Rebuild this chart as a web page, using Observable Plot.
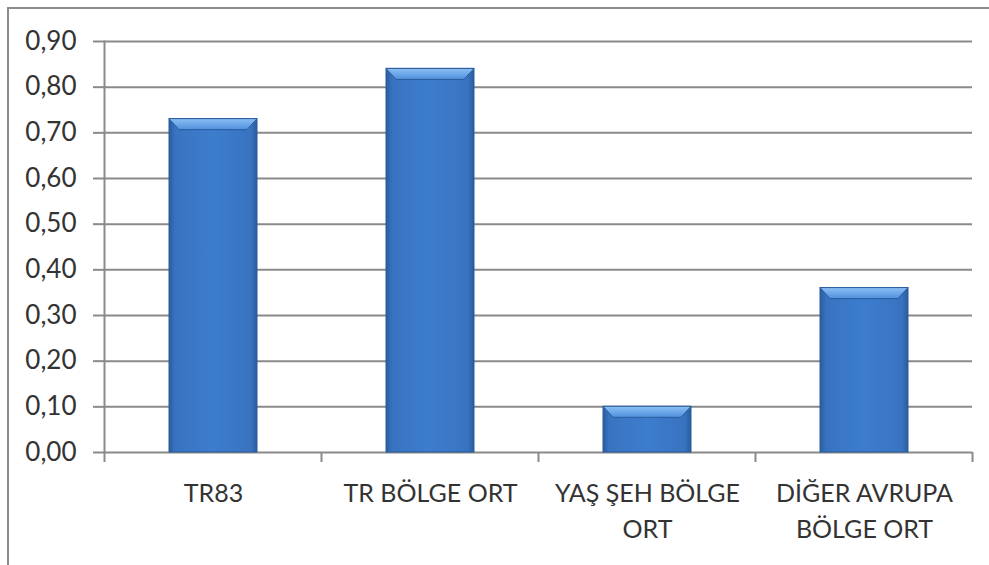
<!DOCTYPE html>
<html>
<head>
<meta charset="utf-8">
<script src="https://cdn.jsdelivr.net/npm/d3@7"></script>
<script src="https://cdn.jsdelivr.net/npm/@observablehq/plot@0.6"></script>
<style>
  html, body { margin: 0; padding: 0; background: #fff; overflow: hidden; }
  #wrap { position: relative; width: 989px; height: 565px; }
  #frame { position: absolute; left: 7px; top: 7px; width: 1000px; height: 600px;
           border-left: 2px solid #8c8c8c; border-top: 2px solid #8c8c8c; box-sizing: border-box; }
  #chart { position: absolute; left: 0; top: 0; }
</style>
</head>
<body>
<div id="wrap"><div id="frame"></div><div id="chart"></div></div>
<script>
const categories = ["TR83", "TR BÖLGE ORT", "YAŞ ŞEH BÖLGE ORT", "DİĞER AVRUPA BÖLGE ORT"];
const categoryLabels = ["TR83", "TR BÖLGE ORT", "YAŞ ŞEH BÖLGE\nORT", "DİĞER AVRUPA\nBÖLGE ORT"];
const values = [0.73, 0.84, 0.10, 0.36];
const yTicks = [0, 0.1, 0.2, 0.3, 0.4, 0.5, 0.6, 0.7, 0.8, 0.9];

const data = categories.map((c, i) => ({category: c, value: values[i]}));
const labelOf = new Map(categories.map((c, i) => [c, categoryLabels[i]]));

const axisColor = "#8a8a8a";
const textColor = "#333333";
const font = "Lato, 'Open Sans', sans-serif";

const chart = Plot.plot({
  width: 989,
  height: 565,
  marginLeft: 104,
  marginRight: 17,
  marginTop: 41,
  marginBottom: 113,
  style: {background: "transparent", fontFamily: font, color: textColor},
  x: {domain: categories, paddingInner: 0.595, paddingOuter: 0.2975},
  y: {domain: [0, 0.9]},
  marks: [
    Plot.gridY(yTicks, {stroke: axisColor, strokeOpacity: 1, strokeWidth: 2}),
    Plot.axisY(yTicks, {
      tickSize: 11, tickPadding: 17, stroke: axisColor, strokeWidth: 2,
      tickFormat: d => d.toFixed(2).replace(".", ","),
      fontSize: 26, fill: textColor, label: null
    }),
    Plot.frame({anchor: "left", stroke: axisColor, strokeWidth: 2}),
    Plot.barY(data, {x: "category", y: "value", fill: "url(#barBody)", stroke: "#2a5c9c", strokeWidth: 1}),
    Plot.axisX({
      tickSize: 0, tickPadding: 24, lineHeight: 1.45,
      tickFormat: d => labelOf.get(d),
      fontSize: 25, fill: textColor, label: null, textAnchor: "middle"
    })
  ]
});

const svg = d3.select(chart);
const defs = svg.insert("defs", ":first-child");
const bodyGrad = defs.append("linearGradient").attr("id", "barBody").attr("x1", 0).attr("x2", 1).attr("y1", 0).attr("y2", 0);
[[0, "#2a5c9e"], [0.07, "#3873c0"], [0.5, "#3d7dce"], [0.93, "#3873c0"], [1, "#2a5c9e"]]
  .forEach(([o, c]) => bodyGrad.append("stop").attr("offset", o).attr("stop-color", c));
const topGrad = defs.append("linearGradient").attr("id", "barTop").attr("x1", 0).attr("x2", 0).attr("y1", 0).attr("y2", 1);
[[0, "#8cc0f5"], [1, "#4f90dc"]].forEach(([o, c]) => topGrad.append("stop").attr("offset", o).attr("stop-color", c));

// top bevel on each bar, derived from the rendered bar rects
svg.selectAll("g[aria-label='bar'] rect").each(function() {
  const r = d3.select(this);
  const x = +r.attr("x"), y = +r.attr("y"), w = +r.attr("width");
  d3.select(this.parentNode).append("path")
    .attr("d", `M${x},${y}L${x + w},${y}L${x + w - 10},${y + 11}L${x + 10},${y + 11}Z`)
    .attr("fill", "url(#barTop)");
});

// category boundary ticks derived from the x band scale
const xs = chart.scale("x");
const step = xs.step, bw = xs.bandwidth;
const bounds = categories.map(c => xs.apply(c) - (step - bw) / 2);
bounds.push(xs.apply(categories[categories.length - 1]) + bw + (step - bw) / 2);
const y0 = chart.scale("y").apply(0);
const g = svg.append("g").attr("stroke", axisColor).attr("stroke-width", 2);
bounds.forEach(b => g.append("line").attr("x1", b).attr("x2", b).attr("y1", y0).attr("y2", y0 + 10));

document.getElementById("chart").appendChild(chart);
</script>
</body>
</html>
